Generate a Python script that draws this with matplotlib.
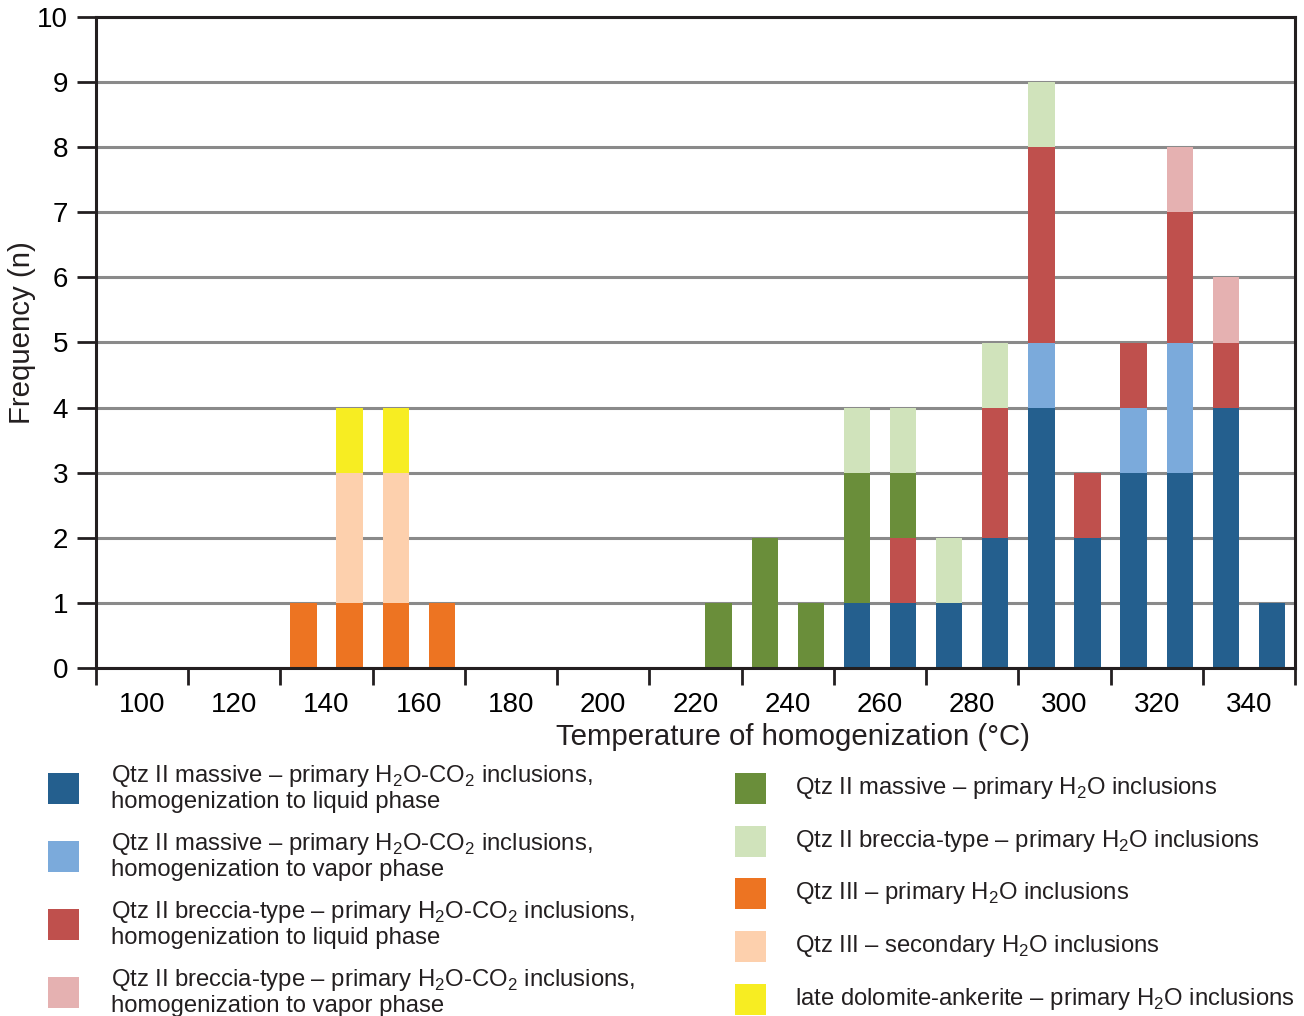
import numpy as np
import matplotlib.pyplot as plt
from matplotlib.patches import Rectangle

plt.rcParams['font.family'] = ['Liberation Sans', 'DejaVu Sans']
plt.rcParams['mathtext.fontset'] = 'custom'
plt.rcParams['mathtext.rm'] = 'Liberation Sans'
plt.rcParams['text.color'] = '#231f20'

# bin centres (°C), 10-degree classes
bins = [135, 145, 155, 165, 175, 185, 195, 205, 215, 225, 235,
        245, 255, 265, 275, 285, 295, 305, 315, 325, 335, 345]

# counts per bin, one list per inclusion group (stacked bottom to top)
qtz2_mass_co2_liq = [0, 0, 0, 0, 0, 0, 0, 0, 0, 0, 0, 0, 1, 1, 1, 2, 4, 2, 3, 3, 4, 1]
qtz2_mass_co2_vap = [0, 0, 0, 0, 0, 0, 0, 0, 0, 0, 0, 0, 0, 0, 0, 0, 1, 0, 1, 2, 0, 0]
qtz2_brec_co2_liq = [0, 0, 0, 0, 0, 0, 0, 0, 0, 0, 0, 0, 0, 1, 0, 2, 3, 1, 1, 2, 1, 0]
qtz2_brec_co2_vap = [0, 0, 0, 0, 0, 0, 0, 0, 0, 0, 0, 0, 0, 0, 0, 0, 0, 0, 0, 1, 1, 0]
qtz2_mass_h2o     = [0, 0, 0, 0, 0, 0, 0, 0, 0, 1, 2, 1, 2, 1, 0, 0, 0, 0, 0, 0, 0, 0]
qtz2_brec_h2o     = [0, 0, 0, 0, 0, 0, 0, 0, 0, 0, 0, 0, 1, 1, 1, 1, 1, 0, 0, 0, 0, 0]
qtz3_primary      = [1, 1, 1, 1, 0, 0, 0, 0, 0, 0, 0, 0, 0, 0, 0, 0, 0, 0, 0, 0, 0, 0]
qtz3_secondary    = [0, 2, 2, 0, 0, 0, 0, 0, 0, 0, 0, 0, 0, 0, 0, 0, 0, 0, 0, 0, 0, 0]
dol_ank_primary   = [0, 1, 1, 0, 0, 0, 0, 0, 0, 0, 0, 0, 0, 0, 0, 0, 0, 0, 0, 0, 0, 0]

H2O = r'H$_\mathregular{2}$O'
CO2 = r'CO$_\mathregular{2}$'
series = [
    (qtz2_mass_co2_liq, '#245f8e', f'Qtz II massive – primary {H2O}-{CO2} inclusions,\nhomogenization to liquid phase'),
    (qtz2_mass_co2_vap, '#7baadb', f'Qtz II massive – primary {H2O}-{CO2} inclusions,\nhomogenization to vapor phase'),
    (qtz2_brec_co2_liq, '#bf504d', f'Qtz II breccia-type – primary {H2O}-{CO2} inclusions,\nhomogenization to liquid phase'),
    (qtz2_brec_co2_vap, '#e5b1b1', f'Qtz II breccia-type – primary {H2O}-{CO2} inclusions,\nhomogenization to vapor phase'),
    (qtz2_mass_h2o, '#6a8e3a', f'Qtz II massive – primary {H2O} inclusions'),
    (qtz2_brec_h2o, '#d0e3bb', f'Qtz II breccia-type – primary {H2O} inclusions'),
    (qtz3_primary, '#ed7422', f'Qtz III – primary {H2O} inclusions'),
    (qtz3_secondary, '#fdd0ad', f'Qtz III – secondary {H2O} inclusions'),
    (dol_ank_primary, '#f7ed22', f'late dolomite-ankerite – primary {H2O} inclusions'),
]

fig = plt.figure(figsize=(13.04, 10.16), dpi=100)
ax = fig.add_axes([96/1304, 1 - 668/1016, (1295 - 96)/1304, (668 - 17)/1016])

bottom = np.zeros(len(bins))
for vals, col, _ in series:
    v = np.array(vals, dtype=float)
    ax.bar(bins, v, width=5.7, bottom=bottom, color=col, zorder=2, linewidth=0)
    bottom += v

ax.set_xlim(90, 350)
ax.set_ylim(0, 10)
ax.set_yticks(range(0, 11))
ax.yaxis.grid(True, color='#8a8a8a', linewidth=2.2, zorder=0)
ax.set_axisbelow(True)

# tick marks on odd tens, labels on even tens
ax.set_xticks(range(90, 351, 20))
ax.set_xticklabels([])
ax.set_xticks(range(100, 341, 20), minor=True)
ax.set_xticklabels([str(t) for t in range(100, 341, 20)], minor=True)
ax.tick_params(axis='x', which='major', direction='out', length=12, width=2, color='#231f20')
ax.tick_params(axis='x', which='minor', length=0, labelsize=20, pad=17)
ax.tick_params(axis='y', direction='out', length=14, width=2, color='#231f20', labelsize=20, pad=6)

for s in ax.spines.values():
    s.set_linewidth(2.2)
    s.set_color('#231f20')

fig.text(22/1304, 1 - 333/1016, 'Frequency (n)', rotation=90, ha='center', va='center', fontsize=21.2)
fig.text(793/1304, 1 - 737/1016, 'Temperature of homogenization (°C)', ha='center', va='center', fontsize=21.2)

# legend: two columns of swatches + labels
left_rows = [788, 856, 924, 992]
right_rows = [788, 841, 893, 946, 999]
for i, (vals, col, lab) in enumerate(series):
    if i < 4:
        xs, xt, yc = 48, 111, left_rows[i]
    else:
        xs, xt, yc = 735, 795, right_rows[i - 4]
    fig.patches.append(Rectangle((xs/1304, 1 - (yc + 15.5)/1016), 31/1304, 31/1016,
                                 transform=fig.transFigure, facecolor=col, edgecolor='none'))
    fig.text(xt/1304, 1 - yc/1016, lab, ha='left', va='center', fontsize=17.2, linespacing=1.08)

fig.savefig('out.png', dpi=100)
